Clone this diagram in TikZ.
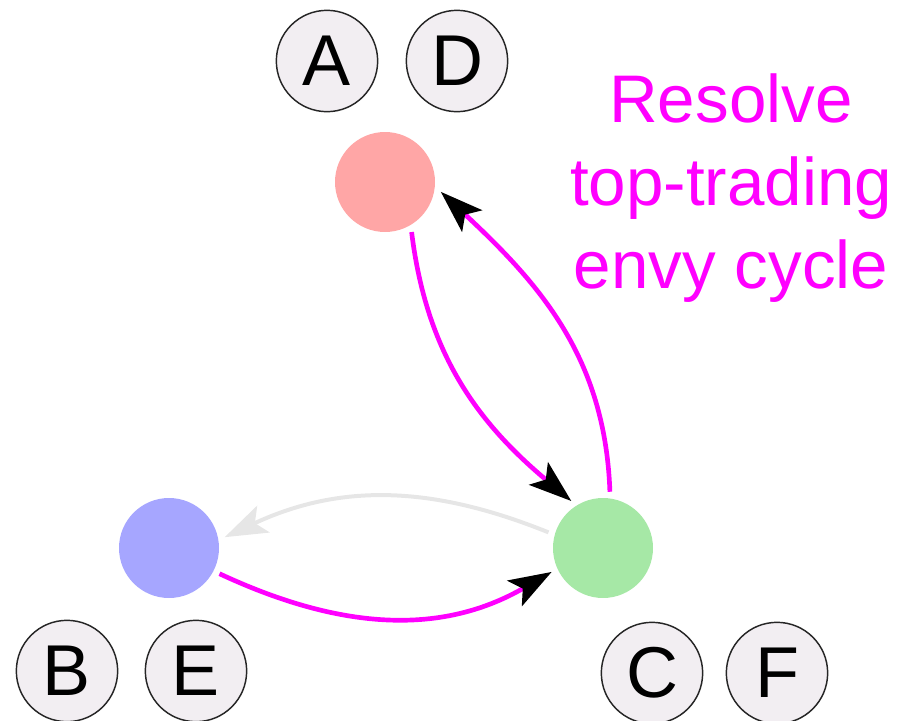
\documentclass[tikz,border=0pt]{standalone}
\usepackage{fontspec}
\setmainfont{Liberation Sans}
\usetikzlibrary{arrows.meta}
\definecolor{agentred}{RGB}{255,166,166}
\definecolor{agentblue}{RGB}{166,166,255}
\definecolor{agentgreen}{RGB}{166,232,166}
\definecolor{itemfill}{RGB}{242,238,242}
\definecolor{envygrey}{RGB}{230,230,230}
\definecolor{cyclemagenta}{RGB}{255,0,255}

\begin{document}
\begin{tikzpicture}[
  x=0.75pt, y=-0.75pt,
  agent/.style={circle, minimum size=75pt, inner sep=0pt, outer sep=5pt},
  item/.style={circle, draw=black!85, line width=1.1pt, fill=itemfill, minimum size=76pt, inner sep=0pt, font=\fontsize{54}{60}\selectfont},
  trade/.style={draw=cyclemagenta, line width=3.5pt, -{Stealth[length=32pt, width=22pt, inset=7pt, color=black]}},
  envy/.style={draw=envygrey, line width=3pt, -{Stealth[length=32pt, width=22pt, inset=7pt]}}]
\useasboundingbox (0,0) rectangle (897,721);
% agents
\node[agent, fill=agentred] (red) at (385,182) {};
\node[agent, fill=agentblue] (blue) at (169,548) {};
\node[agent, fill=agentgreen] (green) at (603,548) {};
% items
\node[item] (itemA) at (327,61) {A};
\node[item] (itemD) at (457,61) {D};
\node[item] (itemB) at (67,671) {B};
\node[item] (itemE) at (196,671) {E};
\node[item] (itemC) at (652,673) {C};
\node[item] (itemF) at (777,673) {F};
% label
\node[anchor=north, inner sep=0pt, align=center, text=cyclemagenta, font=\fontsize{50.5}{62.6}\selectfont] (label) at (731,73) {Resolve\\top-trading\\envy cycle};
% edges
\draw[envy] (green.164) to[out=158, in=25] (blue.11);
\draw[trade] (red.-62) to[out=-83, in=140] (green.124);
\draw[trade] (green.83) to[out=92, in=-43] (red.-10);
\draw[trade] (blue.-27) to[out=-25, in=210] (green.205);
\end{tikzpicture}
\end{document}
